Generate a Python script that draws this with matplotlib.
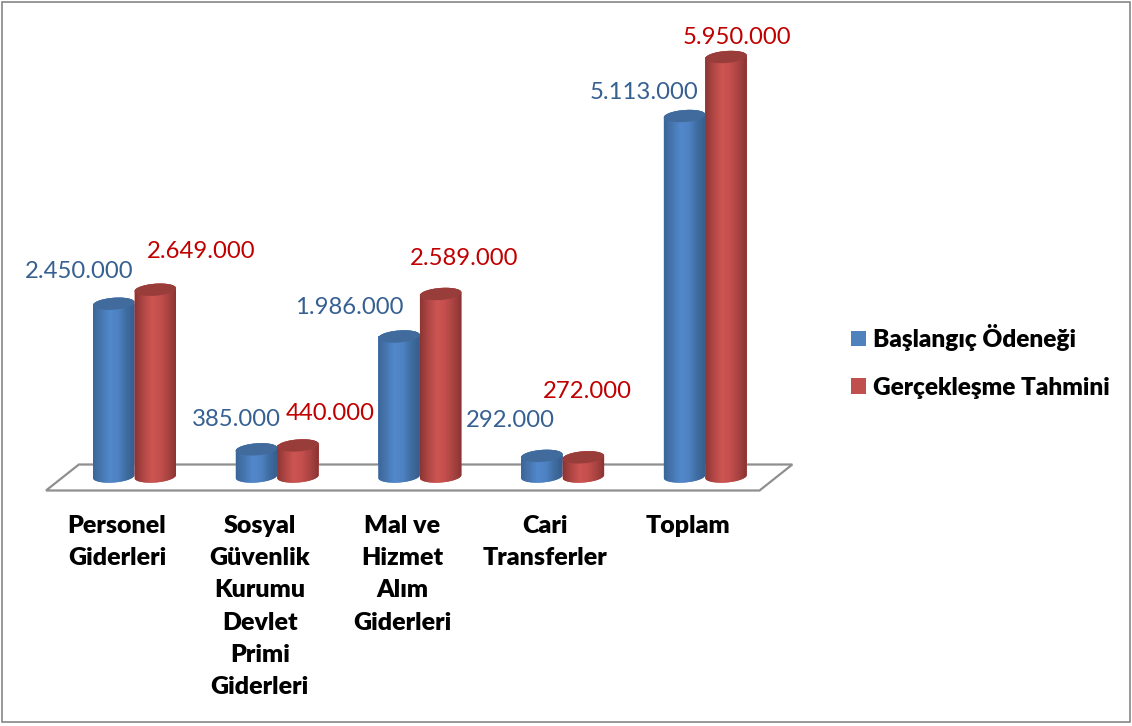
import matplotlib
matplotlib.use("Agg")
import matplotlib.pyplot as plt
import numpy as np
from matplotlib.colors import LinearSegmentedColormap
from matplotlib.patches import Polygon, Rectangle

categories = ["Personel\nGiderleri", "Sosyal\nGüvenlik\nKurumu\nDevlet\nPrimi\nGiderleri",
              "Mal ve\nHizmet\nAlım\nGiderleri", "Cari\nTransferler", "Toplam"]
baslangic = [2450000, 385000, 1986000, 292000, 5113000]
gerceklesme = [2649000, 440000, 2589000, 272000, 5950000]
series_names = ["Başlangıç Ödeneği", "Gerçekleşme Tahmini"]

# label offsets from the top of each cylinder, in pixels
blue_offsets = [(-35, 32), (-20, 30), (-50, 29), (-31, 35), (-41, 24)]
red_offsets = [(46, 38), (32, 32), (23, 35), (4, 66), (11, 20)]

W, H = 1132, 726
PX_PER_UNIT = 7.05e-5   # vertical scale
PX_PER_CAT = 142.7   # horizontal scale
X0_PX = 134.5        # centre of first group
Y0_PX = 476.5        # value 0
AX_BOTTOM_PX = 500
TILT = 1.5           # px, cap tilt

plt.rcParams['font.family'] = ['Lato', 'DejaVu Sans']

fig = plt.figure(figsize=(W / 100, H / 100), dpi=100)
ax = fig.add_axes([0, 1 - AX_BOTTOM_PX / H, 1, AX_BOTTOM_PX / H])
ax.set_xlim((0 - X0_PX) / PX_PER_CAT, (W - X0_PX) / PX_PER_CAT)
ax.set_ylim((Y0_PX - AX_BOTTOM_PX) / PX_PER_UNIT, Y0_PX / PX_PER_UNIT)


def dx(px):
    return px / PX_PER_CAT


def dy(px):
    return px / PX_PER_UNIT


# floor of the 3d chart
floor_x = np.array([-0.62, 4.38, 4.61, -0.39])
floor_y = np.array([-14, -14, 12, 12])
ax.add_patch(Polygon(np.column_stack([floor_x, dy(floor_y)]), closed=True, facecolor="white",
                     edgecolor="#8f8f8f", linewidth=1.6, zorder=1))

bar_w = dx(41.5)
cm_blue = LinearSegmentedColormap.from_list("b", ["#3b6699", "#4777b0", "#5288cc", "#4e82c2", "#3f6c9f", "#365d8c"])
cm_red = LinearSegmentedColormap.from_list("r", ["#8c3533", "#b04745", "#cd5552", "#c44f4c", "#a84341", "#873331"])
grad = np.linspace(0, 1, 128).reshape(1, -1)
t = np.linspace(0, 2 * np.pi, 90)


def cylinder(xc, v, face, cap, cmap, z):
    tt = np.linspace(0, np.pi, 45)
    top_x = xc - bar_w / 2 * np.cos(tt)
    top_y = v + dy(-TILT * np.cos(tt) + 6 * np.sin(tt))
    bot_x = xc + bar_w / 2 * np.cos(tt)
    bot_y = dy(TILT * np.cos(tt) - 6 * np.sin(tt))
    body = Polygon(np.column_stack([np.r_[top_x, bot_x], np.r_[top_y, bot_y]]), closed=True,
                   facecolor=face, edgecolor="none", zorder=z)
    ax.add_patch(body)
    im = ax.imshow(grad, cmap=cmap, aspect="auto", zorder=z,
                   extent=[xc - bar_w / 2, xc + bar_w / 2, dy(-10), v + dy(10)])
    im.set_clip_path(body)
    ex = xc + bar_w / 2 * np.cos(t)
    ey = v + dy(6 * np.sin(t) + TILT * np.cos(t))
    ax.fill(ex, ey, color=cap, zorder=z + 0.1, linewidth=0)


xs = np.arange(len(categories))
blue_bars = ax.bar(xs - bar_w / 2, baslangic, bar_w, color="#4f81bd", label=series_names[0], zorder=0)
red_bars = ax.bar(xs + bar_w / 2, gerceklesme, bar_w, color="#c0504d", label=series_names[1], zorder=0)

for i in range(len(categories)):
    cylinder(xs[i] - bar_w / 2, baslangic[i], "#4f81bd", "#416b9c", cm_blue, 3)
    cylinder(xs[i] + bar_w / 2, gerceklesme[i], "#c0504d", "#993d3b", cm_red, 4)

for i in range(len(categories)):
    for val, off, xc, col in ((baslangic[i], blue_offsets[i], xs[i] - bar_w / 2, "#376092"),
                              (gerceklesme[i], red_offsets[i], xs[i] + bar_w / 2, "#c00000")):
        ax.annotate(f"{val:,}".replace(",", "."), (xc, val), xytext=(off[0] * 0.72, off[1] * 0.72),
                    textcoords="offset points", ha="center", va="center", fontsize=17.2, color=col, zorder=6)

ax.set_xticks(xs - 17.5 / PX_PER_CAT)
ax.set_xticklabels(categories, fontsize=18, fontweight="heavy", color="black", linespacing=1.575, ha="center")
ax.tick_params(axis="x", length=0, pad=10.5)
ax.set_yticks([])
for s in ax.spines.values():
    s.set_visible(False)
ax.patch.set_alpha(0)

ax.legend(handles=[blue_bars, red_bars], labels=series_names, loc="upper left",
          bbox_to_anchor=(829 / W, 1 - 302 / AX_BOTTOM_PX), frameon=False,
          handlelength=0.6, handleheight=0.6, handletextpad=0.3, labelspacing=1.05,
          prop={"weight": "heavy", "size": 17.6})

fig.add_artist(Rectangle((2 / W, 4 / H), (W - 4) / W, (H - 6) / H, transform=fig.transFigure,
                         fill=False, edgecolor="#868686", linewidth=1.2))

fig.savefig("out.png", dpi=100)
